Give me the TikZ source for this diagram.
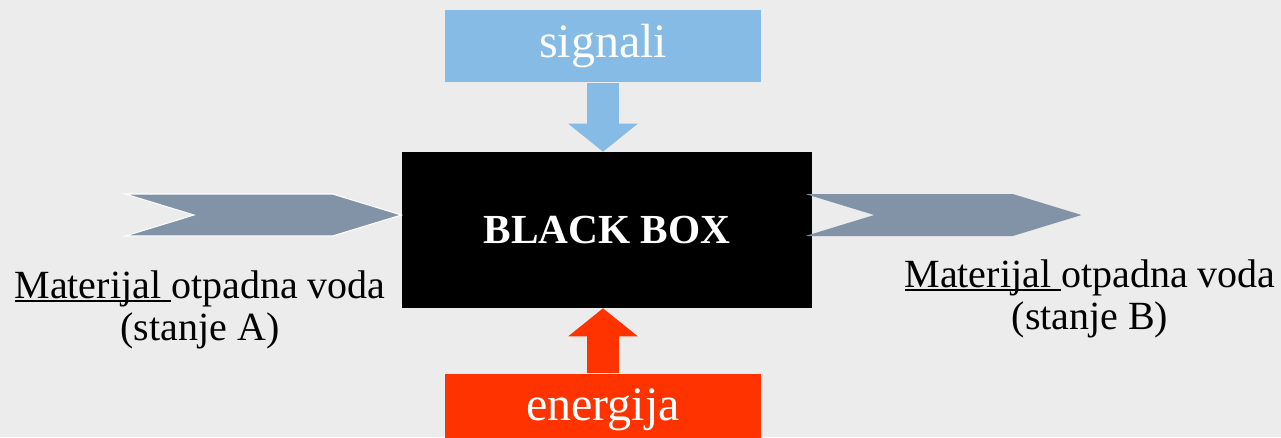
\documentclass[tikz,border=0pt]{standalone}
\usepackage{fontspec}
\setmainfont{Liberation Serif}
\usetikzlibrary{arrows.meta, positioning, shapes.symbols}
\definecolor{PaperGrey}{RGB}{236,236,236}
\definecolor{SigBlue}{RGB}{133,187,228}
\definecolor{EnergyRed}{RGB}{255,51,0}
\definecolor{FlowGrey}{RGB}{130,147,167}
\newcommand{\ulword}[1]{\setbox0\hbox{#1}\rlap{\rule[-2.8pt]{\wd0}{1.3pt}}\box0}
\tikzset{
  inbox/.style={
    rectangle, fill=#1, text=white, inner sep=0pt,
    minimum width=237pt, minimum height=54pt,
    font=\fontsize{36}{40}\selectfont
  },
  flow/.style={
    signal, signal from=west, signal to=east, signal pointer angle=34,
    fill=FlowGrey, inner sep=0pt,
    minimum width=207pt, minimum height=31.5pt
  },
  feed/.style={line width=24pt, color=#1, -{Triangle[width=51pt, length=21pt]}},
  matlabel/.style={align=center, inner sep=0pt, font=\fontsize{30}{32}\selectfont},
}

\begin{document}
\begin{tikzpicture}[x=0.75pt, y=-0.75pt]
\fill[PaperGrey] (0,0) rectangle (1281,437);
\useasboundingbox (0,0) rectangle (1281,437);

\node[fill=black, text=white, minimum width=307.5pt, minimum height=117pt,
  font=\bfseries\fontsize{31}{36}\selectfont] (box) at (607,230) {\raisebox{-1.5pt}{BLACK BOX}};
\node[inbox=SigBlue, above=51.75pt of box, xshift=-3pt] (sig) {signali};
\node[inbox=EnergyRed, below=48.75pt of box, xshift=-3pt] (ene) {energija};

% input and output streams
\node[flow, draw=white, line width=0.8pt, left=-1pt of box, yshift=11.25pt] (inA) {};
\node[flow, right=45.75pt of box, yshift=11.25pt] (outB) {};

\draw[feed=SigBlue] (sig.south) -- (sig.south |- box.north);
\draw[feed=EnergyRed] (ene.north) -- (ene.north |- box.south);

\node[matlabel] (labA) at (200,310) {\ulword{Materijal\ }otpadna voda\\(stanje A)};
\node[matlabel] (labB) at (1090,299) {\ulword{Materijal\ }otpadna voda\\(stanje B)};
\end{tikzpicture}
\end{document}
